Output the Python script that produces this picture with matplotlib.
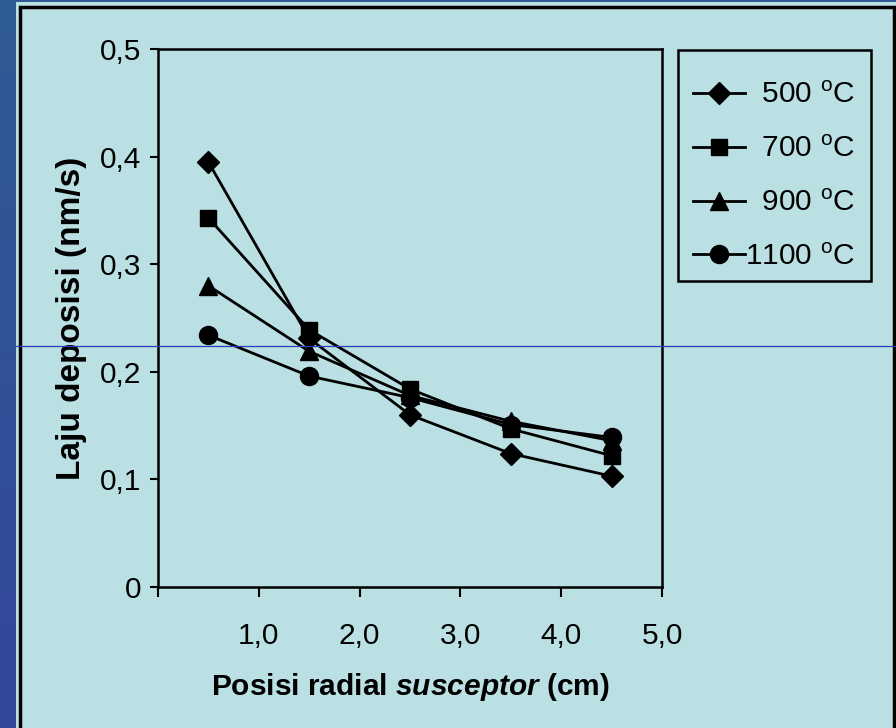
import numpy as np
import matplotlib
matplotlib.use("Agg")
import matplotlib.pyplot as plt
from matplotlib.patches import Rectangle
from matplotlib.lines import Line2D
from matplotlib.colors import LinearSegmentedColormap

plt.rcParams['font.family'] = 'Liberation Sans'
plt.rcParams['font.size'] = 21.5
plt.rcParams['mathtext.fontset'] = 'custom'
plt.rcParams['mathtext.rm'] = 'Liberation Sans'
plt.rcParams['mathtext.it'] = 'Liberation Sans:italic'
plt.rcParams['mathtext.bf'] = 'Liberation Sans:bold'
plt.rcParams['mathtext.bfit'] = 'Liberation Sans:italic:bold'

# data
posisi = [0.5, 1.5, 2.5, 3.5, 4.5]
laju_500 = [0.395, 0.231, 0.160, 0.124, 0.103]
laju_700 = [0.343, 0.239, 0.184, 0.147, 0.122]
laju_900 = [0.280, 0.219, 0.178, 0.154, 0.136]
laju_1100 = [0.234, 0.196, 0.176, 0.151, 0.139]
labels = ["  500 $^{\\rm o}$C", "  700 $^{\\rm o}$C", "  900 $^{\\rm o}$C", "1100 $^{\\rm o}$C"]
xticks = [0, 1, 2, 3, 4, 5]
xticklabels = ["", "1,0", "2,0", "3,0", "4,0", "5,0"]
yticks = [0, 0.1, 0.2, 0.3, 0.4, 0.5]
yticklabels = ["0", "0,1", "0,2", "0,3", "0,4", "0,5"]

W, H = 896, 728
bg = '#BAE0E3'
fig = plt.figure(figsize=(W / 100, H / 100), dpi=100)
fig.patch.set_facecolor(bg)

# dark blue frame: top strip and left gradient strip
fig.patches.append(Rectangle((0, 1 - 2 / H), 1, 2 / H, transform=fig.transFigure,
                             facecolor='#2F5A96', edgecolor='none', zorder=0))
strip = fig.add_axes([0, 0, 16 / W, 1])
grad = np.linspace(0, 1, 256).reshape(-1, 1)
cmap = LinearSegmentedColormap.from_list('strip', ['#2F5C96', '#33479A'])
strip.imshow(grad, aspect='auto', cmap=cmap)
strip.set_axis_off()

# black border of the panel
fig.patches.append(Rectangle((19.5 / W, -0.01), 874 / W, 1 - 6.5 / H + 0.01,
                             transform=fig.transFigure, facecolor='none',
                             edgecolor='black', linewidth=2.5, zorder=1))

ax = fig.add_axes([158 / W, 1 - 587 / H, (662 - 158) / W, (587 - 49) / H])
ax.set_facecolor(bg)

series = [laju_500, laju_700, laju_900, laju_1100]
markers = ['D', 's', '^', 'o']
sizes = [11.5, 12, 13, 13]
for vals, m, ms, lab in zip(series, markers, sizes, labels):
    ax.plot(posisi, vals, color='black', linewidth=2.0, marker=m, markersize=ms,
            markerfacecolor='black', markeredgecolor='black', label=lab, clip_on=False)

ax.set_xlim(0, 5)
ax.set_ylim(0, 0.5)
ax.set_xticks(xticks)
ax.set_xticklabels(xticklabels)
ax.set_yticks(yticks)
ax.set_yticklabels(yticklabels)
ax.tick_params(axis='x', direction='out', length=7, width=1.5, pad=18)
ax.tick_params(axis='y', direction='out', length=6, width=1.5, pad=6)
for s in ax.spines.values():
    s.set_linewidth(1.8)

ax.set_ylabel("Laju deposisi (nm/s)", fontweight='bold', fontsize=24, labelpad=9)
ax.set_xlabel("Posisi radial $\\mathbfit{susceptor}$ (cm)", fontweight='bold', labelpad=15)

# legend box drawn separately so the entries can sit inside it freely
fig.patches.append(Rectangle((678 / W, 1 - 281 / H), (871 - 678) / W, (281 - 50) / H,
                             transform=fig.transFigure, facecolor=bg,
                             edgecolor='black', linewidth=1.8, zorder=2))
leg = fig.legend(loc='upper left', bbox_to_anchor=(693 / W, 1 - 81 / H),
                 bbox_transform=fig.transFigure, borderaxespad=0, frameon=False,
                 handlelength=1.75, handletextpad=0.0, labelspacing=0.87,
                 borderpad=0)
leg.set_zorder(3)

# thin blue line across the picture
fig.add_artist(Line2D([16 / W, 1], [1 - 346 / H, 1 - 346 / H], transform=fig.transFigure,
                      color='#2A3FB8', linewidth=0.9, zorder=10))

fig.savefig('out.png', dpi=100, facecolor=fig.get_facecolor())
